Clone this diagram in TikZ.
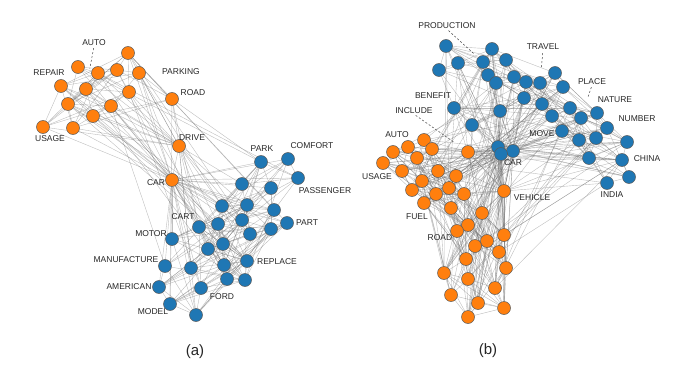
\documentclass[tikz,border=0pt]{standalone}
\usepackage{fontspec}
\setmainfont{Liberation Sans}
\usetikzlibrary{backgrounds}
\definecolor{nblue}{HTML}{1F77B4}
\definecolor{norange}{HTML}{FF7F0E}
\tikzset{
  bnode/.style={circle,minimum size=13pt,inner sep=0pt,fill=nblue,draw=black!65,line width=0.5pt},
  onode/.style={circle,minimum size=13pt,inner sep=0pt,fill=norange,draw=black!65,line width=0.5pt},
  edge/.style={draw=black!60,opacity=0.42,line width=0.4pt},
  lbl/.style={inner sep=0pt,font=\fontsize{8.5}{10}\selectfont,text=black!85},
  leader/.style={draw=black!75,line width=0.5pt,dash pattern=on 2pt off 2pt},
  sublbl/.style={inner sep=0pt,font=\fontsize{15}{17}\selectfont,text=black!85}
}
% random edges inside one group, probability falls with distance
\newcommand\intraedges[5]{%
  \foreach \i in {1,...,#2}{%
    \foreach \j in {1,...,#2}{%
      \ifnum\j>\i\relax
        \pgfpointdiff{\pgfpointanchor{#1\i}{center}}{\pgfpointanchor{#1\j}{center}}%
        \pgfgetlastxy\myDX\myDY
        \pgfmathsetmacro\myPP{#3+#4*exp(-veclen(\myDX,\myDY)/#5)}%
        \pgfmathsetmacro\myRR{rnd}%
        \ifdim\myRR pt<\myPP pt \draw[edge] (#1\i) -- (#1\j);\fi
      \fi
    }%
  }%
}
% random edges between two lists of nodes
\newcommand\interedges[5]{%
  \foreach \i in {#2}{%
    \foreach \j in {#4}{%
      \pgfmathsetmacro\myRR{rnd}%
      \ifdim\myRR pt<#5pt \draw[edge] (#1\i) -- (#3\j);\fi
    }%
  }%
}
\begin{document}
\begin{tikzpicture}[x=1pt,y=-1pt]
\useasboundingbox (0,0) rectangle (677,385);
\pgfmathsetseed{11}
% ---------------- (a) ----------------
\foreach \n/\x/\y in {1/128/53,2/78/67,3/98/73,4/117/70,5/139/73,6/61/86,7/86/89,8/129/92,
  9/172/99,10/68/104,11/111/106,12/93/116,13/43/127,14/73/128,15/179/146,16/172/180}
  \node[onode] (ao\n) at (\x,\y) {};
\foreach \n/\x/\y in {1/261/162,2/288/159,3/298/178,4/242/184,5/271/188,6/222/206,7/247/205,
  8/274/210,9/199/227,10/218/224,11/242/220,12/271/229,13/287/223,14/172/239,15/250/234,
  16/223/244,17/208/249,18/165/266,19/191/268,20/224/265,21/247/261,22/159/287,23/201/288,
  24/227/279,25/245/280,26/170/304,27/196/315}
  \node[bnode] (ab\n) at (\x,\y) {};
% ---------------- (b) ----------------
\foreach \n/\x/\y in {1/424/140,2/408/147,3/432/149,4/393/152,5/468/152,6/417/158,7/383/163,
  8/402/171,9/438/171,10/456/176,11/422/181,12/412/190,13/449/188,14/436/194,15/464/194,
  16/504/191,17/424/203,18/451/208,19/482/213,20/468/225,21/457/231,22/504/235,23/487/241,
  24/475/246,25/499/252,26/466/259,27/506/268,28/444/273,29/468/279,30/495/288,31/451/295,
  32/478/303,33/504/308,34/468/317}
  \node[onode] (bo\n) at (\x,\y) {};
\foreach \n/\x/\y in {1/446/46,2/492/49,3/458/63,4/483/62,5/506/60,6/439/70,7/488/75,8/496/83,
  9/514/77,10/526/82,11/540/83,12/524/98,13/542/104,14/555/73,15/563/87,16/570/108,17/552/116,
  18/581/118,19/597/113,20/607/128,21/562/131,22/579/140,23/596/138,24/627/142,25/589/158,
  26/622/160,27/629/177,28/607/183,29/454/108,30/500/111,31/472/125,32/498/147,33/513/151,34/501/154}
  \node[bnode] (bb\n) at (\x,\y) {};
% ---------------- edges ----------------
\begin{pgfonlayer}{background}
  % (a)
  \intraedges{ao}{14}{0.2}{0.8}{45}
  \interedges{ao}{1,...,14}{ao}{15,16}{0.8}
  \draw[edge] (ao15) -- (ao16);
  \intraedges{ab}{27}{0.12}{0.8}{45}
  \interedges{ao}{16}{ab}{1,...,27}{0.85}
  \interedges{ao}{15}{ab}{1,...,27}{0.35}
  \interedges{ao}{1,...,14}{ab}{1,...,27}{0.04}
  % (b)
  \intraedges{bo}{34}{0.12}{0.8}{40}
  \intraedges{bb}{31}{0.1}{0.8}{40}
  \interedges{bb}{32,33,34}{bo}{1,...,34}{0.6}
  \interedges{bb}{32,33,34}{bb}{1,...,31}{0.6}
  \draw[edge] (bb32) -- (bb33) (bb33) -- (bb34) (bb32) -- (bb34);
  \interedges{bo}{16}{bo}{1,...,15,17,18,...,34}{0.4}
  \interedges{bo}{16}{bb}{1,...,31}{0.4}
  \interedges{bo}{1,...,15,17,18,...,34}{bb}{1,...,31}{0.06}
\end{pgfonlayer}
% ---------------- labels (a) ----------------
\node[lbl] (la-auto) at (94,43) {AUTO};
\node[lbl] (la-repair) at (49,73) {REPAIR};
\node[lbl] (la-parking) at (181,72) {PARKING};
\node[lbl] (la-road) at (193,93) {ROAD};
\node[lbl] (la-usage) at (50,139) {USAGE};
\node[lbl] (la-drive) at (192,138) {DRIVE};
\node[lbl] (la-car) at (156,183) {CAR};
\node[lbl] (la-park) at (262,149) {PARK};
\node[lbl] (la-comfort) at (312,146) {COMFORT};
\node[lbl] (la-passenger) at (325,191) {PASSENGER};
\node[lbl] (la-part) at (307,223) {PART};
\node[lbl] (la-cart) at (183,217) {CART};
\node[lbl] (la-motor) at (151,234) {MOTOR};
\node[lbl] (la-manufacture) at (126,260) {MANUFACTURE};
\node[lbl] (la-replace) at (277,262) {REPLACE};
\node[lbl] (la-american) at (129,287) {AMERICAN};
\node[lbl] (la-ford) at (222,297) {FORD};
\node[lbl] (la-model) at (153,312) {MODEL};
\draw[leader,shorten <=2pt,shorten >=14pt] (la-auto.south) -- (ao7);
% ---------------- labels (b) ----------------
\node[lbl] (lb-production) at (447,26) {PRODUCTION};
\node[lbl] (lb-travel) at (543,47) {TRAVEL};
\node[lbl] (lb-benefit) at (433,96) {BENEFIT};
\node[lbl] (lb-include) at (414,111) {INCLUDE};
\node[lbl] (lb-place) at (592,82) {PLACE};
\node[lbl] (lb-nature) at (615,100) {NATURE};
\node[lbl] (lb-number) at (637,119) {NUMBER};
\node[lbl] (lb-move) at (542,134) {MOVE};
\node[lbl] (lb-auto) at (397,135) {AUTO};
\node[lbl] (lb-car) at (513,163) {CAR};
\node[lbl] (lb-usage) at (377,177) {USAGE};
\node[lbl] (lb-china) at (647,159) {CHINA};
\node[lbl] (lb-vehicle) at (532,198) {VEHICLE};
\node[lbl] (lb-india) at (612,195) {INDIA};
\node[lbl] (lb-fuel) at (417,217) {FUEL};
\node[lbl] (lb-road) at (440,238) {ROAD};
\draw[leader,shorten <=2pt,shorten >=6pt] (lb-production.south) -- (bb4);
\draw[leader,shorten <=2pt,shorten >=10pt] (lb-include.south) -- (bo5);
\draw[leader,shorten <=3pt,shorten >=8pt] (lb-travel.south) -- (bb11);
\draw[leader,shorten <=2pt,shorten >=14pt] (lb-place.south) -- (bb18);
% ---------------- sub-captions ----------------
\node[sublbl] (cap-a) at (195,352) {(a)};
\node[sublbl] (cap-b) at (488,351) {(b)};
\end{tikzpicture}
\end{document}
